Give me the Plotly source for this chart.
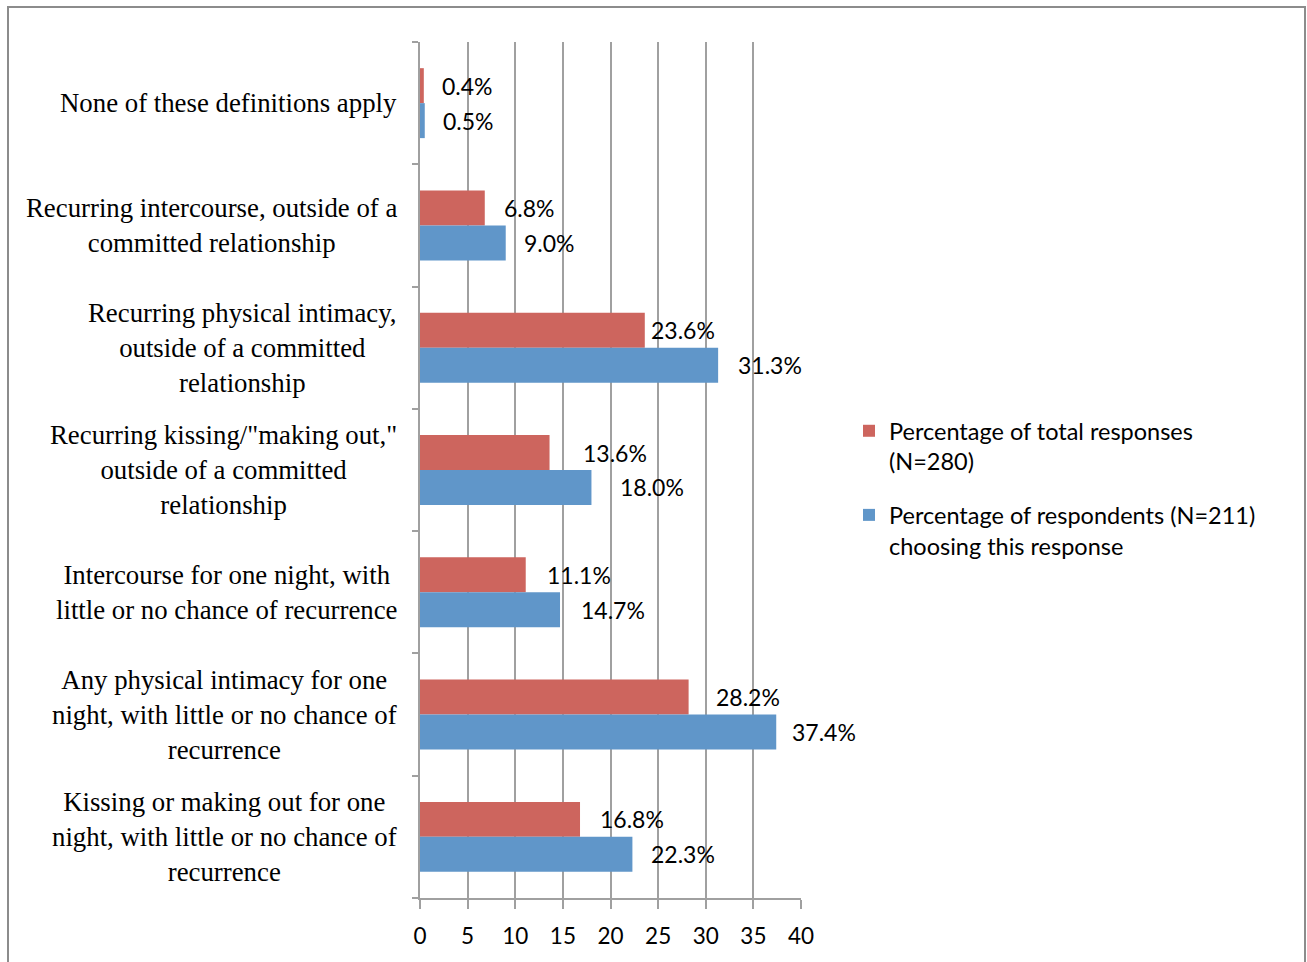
import plotly.graph_objects as go

# Survey categories, listed top to bottom as they appear on the chart
categories = [
    "None of these definitions apply",
    "Recurring intercourse, outside of a<br>committed relationship",
    "Recurring physical intimacy,<br>outside of a committed<br>relationship",
    "Recurring kissing/\"making out,\"<br>outside of a committed<br>relationship",
    "Intercourse for one night, with<br>little or no chance of recurrence",
    "Any physical intimacy for one<br>night, with little or no chance of<br>recurrence",
    "Kissing or making out for one<br>night, with little or no chance of<br>recurrence",
]
pct_total_responses = [0.4, 6.8, 23.6, 13.6, 11.1, 28.2, 16.8]
pct_respondents = [0.5, 9.0, 31.3, 18.0, 14.7, 37.4, 22.3]
series_names = [
    "Percentage of total responses<br>(N=280)",
    "Percentage of respondents (N=211)<br>choosing this response",
]
x_ticks = [0, 5, 10, 15, 20, 25, 30, 35, 40]

# pixel gap between each bar end and its value label
red_label_gap = [18, 19, 6, 33, 21, 27, 20]
blue_label_gap = [18, 18, 20, 29, 21, 16, 19]

RED = "#CD655E"
BLUE = "#6096C9"
AXIS = "#A0A0A0"
SERIF = "Liberation Serif, Times New Roman, serif"
SANS = "Lato, Open Sans, sans-serif"

W, H = 1307, 962
L, R, T, B = 420, W - 801, 42, H - 898
pw, ph = W - L - R, H - T - B

idx = list(range(len(categories)))

fig = go.Figure()
fig.add_trace(go.Bar(
    y=idx, x=pct_total_responses, orientation="h", name=series_names[0],
    marker=dict(color=RED, line=dict(width=0)), legendgroup="a",
))
fig.add_trace(go.Bar(
    y=idx, x=pct_respondents, orientation="h", name=series_names[1],
    marker=dict(color=BLUE, line=dict(width=0)), legendgroup="b",
))

annotations = []
# category labels, centred lines, right edge next to the axis
for i, cat in enumerate(categories):
    annotations.append(dict(
        text=cat, xref="paper", x=0, xanchor="right", xshift=-21,
        yref="y", y=i, yanchor="middle", showarrow=False, align="center",
        font=dict(family=SERIF, size=26.8, color="black"),
    ))

# value labels
half = 0.143
for i in idx:
    annotations.append(dict(
        text=f"{pct_total_responses[i]:.1f}%", xref="x", x=pct_total_responses[i],
        xanchor="left", xshift=red_label_gap[i] - 2, yref="y", y=i - half,
        yanchor="middle", showarrow=False,
        font=dict(family=SANS, size=23, color="black"),
    ))
    annotations.append(dict(
        text=f"{pct_respondents[i]:.1f}%", xref="x", x=pct_respondents[i],
        xanchor="left", xshift=blue_label_gap[i] - 2, yref="y", y=i + half,
        yanchor="middle", showarrow=False,
        font=dict(family=SANS, size=23, color="black"),
    ))

# outer chart frame
def px_x(p):
    return (p - L) / pw

def px_y(p):
    return (H - B - p) / ph

frame = dict(
    type="rect", xref="paper", yref="paper",
    x0=px_x(8), x1=px_x(1305), y0=px_y(H + 10), y1=px_y(7),
    line=dict(color="#8C8C8C", width=2), fillcolor="rgba(0,0,0,0)", layer="below",
)

fig.update_layout(
    width=W, height=H,
    margin=dict(l=L, r=R, t=T, b=B, pad=0),
    paper_bgcolor="white", plot_bgcolor="white",
    barmode="group", bargap=0.428, bargroupgap=0,
    showlegend=True,
    legend=dict(
        x=px_x(849), y=px_y(409), xanchor="left", yanchor="top",
        font=dict(family=SANS, size=23.5, color="black"),
        valign="top", tracegroupgap=20, traceorder="grouped",
        bgcolor="rgba(0,0,0,0)",
    ),
    annotations=annotations,
    shapes=[frame],
    xaxis=dict(
        range=[0, 40], tickvals=x_ticks, ticktext=[str(v) for v in x_ticks],
        showgrid=True, gridcolor=AXIS, gridwidth=2,
        showline=True, linecolor=AXIS, linewidth=2,
        ticks="outside", ticklen=9, tickwidth=2, tickcolor=AXIS,
        ticklabelstandoff=8,
        tickfont=dict(family=SANS, size=22.5, color="black"),
        zeroline=False, fixedrange=True,
    ),
    yaxis=dict(
        type="linear", range=[len(categories) - 0.5, -0.5],
        tickvals=[i - 0.5 for i in range(len(categories) + 1)],
        showticklabels=False, showgrid=False,
        showline=True, linecolor=AXIS, linewidth=2,
        ticks="outside", ticklen=6, tickwidth=2, tickcolor=AXIS,
        zeroline=False, fixedrange=True,
    ),
)

fig.write_html("out.html")
